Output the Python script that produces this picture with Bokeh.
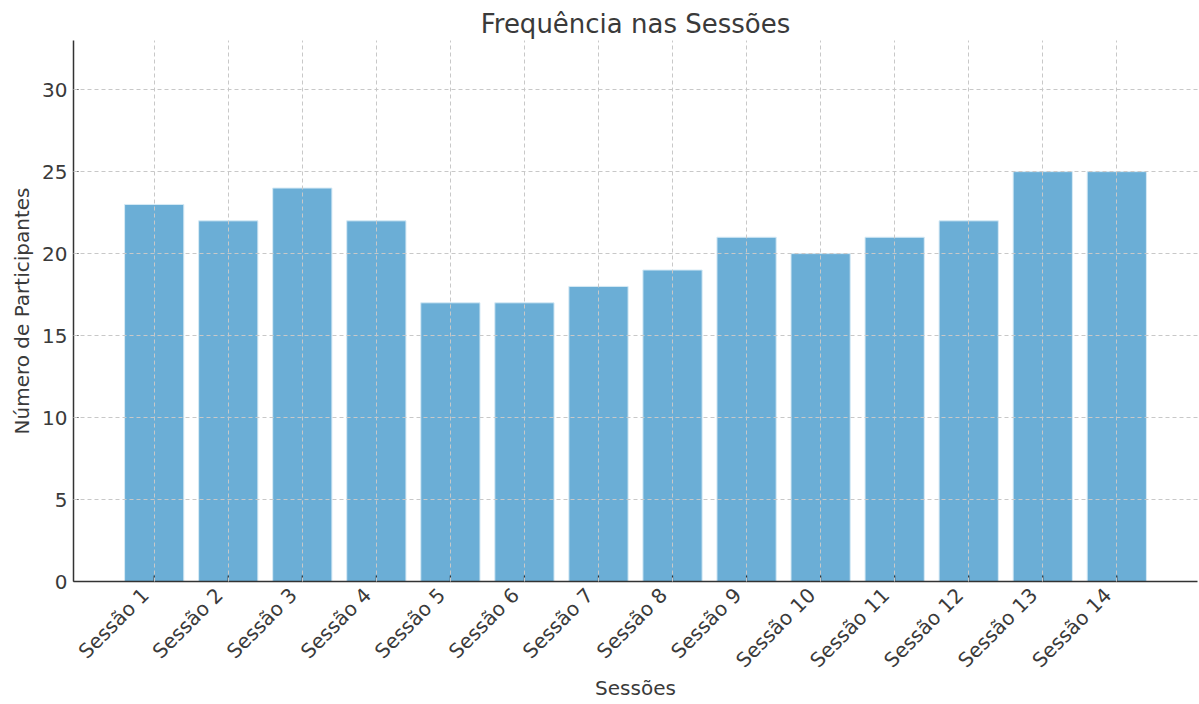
from math import pi
from bokeh.plotting import figure
from bokeh.models import Range1d, FixedTicker, LinearAxis
from bokeh.embed import file_html
from bokeh.resources import INLINE

sessoes = [f"Sessão {i}" for i in range(1, 15)]
participantes = [23, 22, 24, 22, 17, 17, 18, 19, 21, 20, 21, 22, 25, 25]
y_ticks = [0, 5, 10, 15, 20, 25, 30]

FONT = "DejaVu Sans"
TXT = "#3a3a3a"
PAD = 1.09     # matplotlib-like margin around the bars, in bar units
SHIFT = 0.12   # label anchor shift (right-aligned rotated labels)

n = len(sessoes)
pos = list(range(n))

p = figure(
    x_range=Range1d(-PAD, n - 1 + PAD),
    y_range=Range1d(0, 33),
    width=1199, height=704,
    output_backend="svg", toolbar_location=None,
    title="Frequência nas Sessões",
    min_border_left=73, min_border_right=2, min_border_top=40, min_border_bottom=123,
)
p.extra_x_ranges = {"lab": Range1d(-PAD + SHIFT, n - 1 + PAD + SHIFT)}

p.vbar(x=pos, top=participantes, width=0.8, fill_color="#6baed6",
       line_color="#d6eaf5", line_width=1)

# inward x tick marks at each bar (lower half clipped by the frame)
p.scatter(x=pos, y=[0] * n, marker="dash", angle=pi / 2, size=12,
          line_color="#333333", line_width=1.2)

p.title.align = "center"
p.title.text_font = FONT
p.title.text_font_size = "26px"
p.title.text_font_style = "normal"
p.title.text_color = TXT
p.title.standoff = 4
p.title.offset = 0

p.outline_line_color = None

for ax in (p.xaxis[0], p.yaxis[0]):
    ax.axis_line_color = "#333333"
    ax.axis_line_width = 1.5
    ax.major_tick_line_color = "#333333"
    ax.major_tick_line_width = 1.2
    ax.minor_tick_line_color = None
    ax.major_label_text_font = FONT
    ax.major_label_text_font_size = "20px"
    ax.major_label_text_color = TXT
    ax.axis_label_text_font = FONT
    ax.axis_label_text_font_size = "20px"
    ax.axis_label_text_font_style = "normal"
    ax.axis_label_text_color = TXT

yt = FixedTicker(ticks=y_ticks)
p.yaxis.ticker = yt
p.ygrid.ticker = yt
p.yaxis.major_tick_out = 0
p.yaxis.major_tick_in = 5
p.yaxis.axis_label = "Número de Participantes"
p.yaxis.major_label_standoff = 6
p.yaxis.axis_label_standoff = 5

# main x axis: line only
p.xaxis.ticker = FixedTicker(ticks=[])
p.xgrid.ticker = FixedTicker(ticks=pos)
p.xaxis.major_tick_in = 0
p.xaxis.major_tick_out = 0
p.xaxis.major_label_standoff = 0

# label axis: rotated session names, right edge at each tick
lab = LinearAxis(
    x_range_name="lab",
    ticker=FixedTicker(ticks=pos),
    major_label_overrides={i: s for i, s in enumerate(sessoes)},
    major_label_orientation=pi / 4,
    axis_line_color=None, major_tick_line_color=None, minor_tick_line_color=None,
    major_tick_in=0, major_tick_out=0,
    major_label_standoff=10,
    major_label_text_font=FONT, major_label_text_font_size="20px",
    major_label_text_color=TXT,
    axis_label="Sessões", axis_label_standoff=-8,
    axis_label_text_font=FONT, axis_label_text_font_size="20px",
    axis_label_text_font_style="normal", axis_label_text_color=TXT,
)
p.add_layout(lab, "below")

for g in (p.xgrid[0], p.ygrid[0]):
    g.grid_line_color = "#c8c8c8"
    g.grid_line_dash = "4 3"
    g.grid_line_width = 1
    g.level = "annotation"

open("out.html", "w").write(file_html(p, INLINE))
